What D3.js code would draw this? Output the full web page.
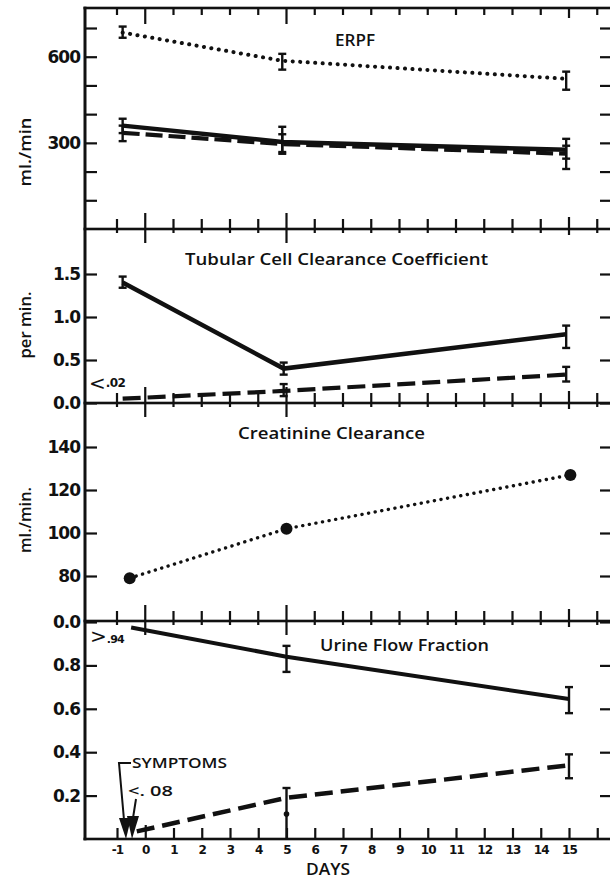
<!DOCTYPE html>
<html>
<head>
<meta charset="utf-8">
<script src="https://cdn.jsdelivr.net/npm/d3@7"></script>
<style>
body { margin: 0; background: #fff; }
</style>
</head>
<body>
<div id="chart"></div>
<script>
// ---- data ----
var dayTicks = d3.range(-1, 17);
var dayLabels = d3.range(-1, 16);
var majorDays = [0, 5];

// ERPF (ml/min)
var erpfDays = [-0.8, 4.85, 14.9];
var erpfDotted = [684, 586, 523];
var erpfDottedLo = [666, 555, 485];
var erpfDottedHi = [705, 610, 548];
var erpfSolid = [360, 303, 276];
var erpfSolidLo = [334, 262, 245];
var erpfSolidHi = [384, 356, 314];
var erpfDashed = [335, 296, 262];
var erpfDashedLo = [306, 268, 209];
var erpfDashedHi = [360, 330, 290];
var erpfTicks = [100, 200, 300, 400, 500, 600, 700];
var erpfLabeled = [600, 300];

// Tubular cell clearance coefficient (per min)
var tccDays = [-0.8, 4.9, 14.9];
var tccSolid = [1.40, 0.40, 0.80];
var tccSolidLo = [1.34, 0.33, 0.64];
var tccSolidHi = [1.47, 0.47, 0.90];
var tccDashed = [0.05, 0.14, 0.33];
var tccDashedLo = [null, 0.08, 0.25];
var tccDashedHi = [null, 0.22, 0.42];
var tccTicks = [0, 0.5, 1.0, 1.5];

// Creatinine clearance (ml/min)
var creatDays = [-0.55, 5, 15.05];
var creatValues = [79, 102, 127];
var creatTicks = [80, 100, 120, 140];

// Urine flow fraction
var urineSolidDays = [-0.5, 5, 15];
var urineSolid = [0.975, 0.84, 0.645];
var urineSolidLo = [null, 0.77, 0.58];
var urineSolidHi = [null, 0.89, 0.70];
var urineDashedDays = [-0.3, 5, 15];
var urineDashed = [0.035, 0.19, 0.34];
var urineDashedLo = [null, 0, 0.28];
var urineDashedHi = [null, 0.235, 0.39];
var urineExtraDot = 0.115;
var urineTicks = [0.2, 0.4, 0.6, 0.8, 1.0];
var urineTickLabels = ["0.2", "0.4", "0.6", "0.8", "0.0"];

// ---- layout ----
var width = 610, height = 880;
var frameLeft = 85, frameRight = 611, frameTop = 8, frameBottom = 839;
var dividers = [229, 403, 621];
var ink = "#111";
var numFont = "'DejaVu Sans', sans-serif";
var textFont = "'Open Sans', sans-serif";

var svg = d3.select("#chart").append("svg")
    .attr("width", width)
    .attr("height", height);

var xScale = d3.scaleLinear().domain([-1, 15]).range([117, 569]);
var yErpf = d3.scaleLinear().domain([0, 700]).range([229, 28]);
var yTcc = d3.scaleLinear().domain([0, 1.5]).range([403, 274]);
var yCreat = d3.scaleLinear().domain([60, 140]).range([619, 447]);
var yUrine = d3.scaleLinear().domain([0, 1]).range([839, 622]);

// frame
svg.append("rect").attr("x", frameLeft - 1.5).attr("y", frameTop - 1.3)
    .attr("width", 3).attr("height", frameBottom - frameTop + 2.6).attr("fill", ink);
[frameTop].concat(dividers).concat([frameBottom]).forEach(function(yy) {
    svg.append("rect").attr("x", frameLeft - 1.5).attr("y", yy - 1.3)
        .attr("width", frameRight - frameLeft + 1.5).attr("height", 2.6).attr("fill", ink);
});

// day ticks crossing the panel dividers and hanging from the top frame
function divUp(d) { return majorDays.indexOf(d) >= 0 ? 16 : (d == 15 ? 12 : 10); }
function divDown(d) { return majorDays.indexOf(d) >= 0 ? 14 : (d == 15 ? 6 : 4); }
function topDown(d) { return majorDays.indexOf(d) >= 0 ? 16 : (d == 15 ? 10 : 7); }
var tickRows = dividers.map(function(yy) { return { y: yy, up: divUp, down: divDown }; })
    .concat([{ y: frameTop, up: function() { return 0; }, down: topDown }]);
tickRows.forEach(function(row) {
    svg.append("g").selectAll("rect")
        .data(dayTicks).enter().append("rect")
        .attr("x", function(d) { return xScale(d) - 1.1; })
        .attr("y", function(d) { return row.y - row.up(d); })
        .attr("width", 2.2)
        .attr("height", function(d) { return row.up(d) + row.down(d); })
        .attr("fill", ink);
});

// bottom axis with labels
var xAxis = d3.axisBottom(xScale).tickValues(dayTicks)
    .tickSizeInner(-11).tickSizeOuter(0).tickPadding(6)
    .tickFormat(function(d) { return dayLabels.indexOf(d) >= 0 ? d : ""; });
var gx = svg.append("g").attr("transform", "translate(0," + frameBottom + ")").call(xAxis);
gx.select(".domain").remove();
gx.selectAll(".tick line").attr("stroke", ink).attr("stroke-width", 2.2)
    .attr("y2", function(d) { return d == 0 ? -14 : -11; });
gx.selectAll(".tick text").attr("font-size", 12).attr("font-weight", 700)
    .attr("font-family", numFont).attr("fill", ink).attr("letter-spacing", -0.8);

svg.append("text").attr("x", 328).attr("y", 875).attr("text-anchor", "middle")
    .attr("font-family", textFont).attr("fill", ink)
    .attr("font-size", 17).attr("font-weight", 600)
    .attr("textLength", 44).attr("lengthAdjust", "spacingAndGlyphs")
    .text("DAYS");

// y axes, left with labels, right ticks only
function yAxes(y, ticks, fmt) {
    var gl = svg.append("g").attr("transform", "translate(" + frameLeft + ",0)")
        .call(d3.axisLeft(y).tickValues(ticks).tickSizeInner(-12).tickSizeOuter(0)
            .tickPadding(5).tickFormat(fmt));
    gl.select(".domain").remove();
    gl.selectAll(".tick line").attr("stroke", ink).attr("stroke-width", 2.2);
    gl.selectAll(".tick text").attr("font-size", 17).attr("font-weight", 700)
        .attr("font-family", numFont).attr("fill", ink)
        .attr("letter-spacing", -1);
    var gr = svg.append("g").attr("transform", "translate(" + frameRight + ",0)")
        .call(d3.axisRight(y).tickValues(ticks)
            .tickSizeInner(-11).tickSizeOuter(0).tickFormat(""));
    gr.select(".domain").remove();
    gr.selectAll(".tick line").attr("stroke", ink).attr("stroke-width", 2.2);
}
yAxes(yErpf, erpfTicks, function(d) { return erpfLabeled.indexOf(d) >= 0 ? d : ""; });
yAxes(yTcc, tccTicks, d3.format(".1f"));
yAxes(yCreat, creatTicks, function(d) { return d; });
yAxes(yUrine, urineTicks, function(d) { return urineTickLabels[urineTicks.indexOf(d)]; });

// y titles
function yTitle(txt, cy, len) {
    svg.append("text").attr("transform", "translate(31," + cy + ") rotate(-90)")
        .attr("text-anchor", "middle").attr("font-size", 16).attr("font-weight", 600)
        .attr("font-family", textFont).attr("fill", ink)
        .attr("textLength", len).attr("lengthAdjust", "spacingAndGlyphs")
        .text(txt);
}
yTitle("ml./min", 152, 69);
yTitle("per min.", 325, 67);
yTitle("ml./min.", 520, 66);

// panel titles
function panelTitle(txt, x0, x1, baseline) {
    svg.append("text").attr("x", x0).attr("y", baseline)
        .attr("font-family", textFont).attr("fill", ink)
        .attr("font-size", 16).attr("font-weight", 600)
        .attr("textLength", x1 - x0).attr("lengthAdjust", "spacingAndGlyphs")
        .text(txt);
}
panelTitle("ERPF", 335, 375, 46);
panelTitle("Tubular Cell Clearance Coefficient", 185, 488, 265);
panelTitle("Creatinine Clearance", 238, 425, 439);
panelTitle("Urine Flow Fraction", 320, 489, 651);

// series helpers
function drawLine(y, days, vals, w, dash, cap) {
    var line = d3.line()
        .x(function(d) { return xScale(d[0]); })
        .y(function(d) { return y(d[1]); });
    svg.append("path")
        .datum(days.map(function(d, i) { return [d, vals[i]]; }))
        .attr("d", line)
        .attr("fill", "none")
        .attr("stroke", ink)
        .attr("stroke-width", w)
        .attr("stroke-dasharray", dash)
        .attr("stroke-linecap", cap || "butt");
}
function drawErr(y, days, lo, hi) {
    var g = svg.append("g");
    days.forEach(function(d, i) {
        if (lo[i] === null) return;
        var xx = xScale(d);
        g.append("line").attr("x1", xx).attr("x2", xx)
            .attr("y1", y(lo[i])).attr("y2", y(hi[i]))
            .attr("stroke", ink).attr("stroke-width", 2.4);
        [lo[i], hi[i]].forEach(function(v) {
            if (v <= 0) return;
            g.append("line").attr("x1", xx - 4).attr("x2", xx + 4)
                .attr("y1", y(v)).attr("y2", y(v))
                .attr("stroke", ink).attr("stroke-width", 2.4);
        });
    });
}

// ERPF
drawLine(yErpf, erpfDays, erpfDotted, 4, "0.1 7.4", "round");
drawErr(yErpf, erpfDays, erpfDottedLo, erpfDottedHi);
drawLine(yErpf, erpfDays, erpfSolid, 4.5, null);
drawErr(yErpf, erpfDays, erpfSolidLo, erpfSolidHi);
drawLine(yErpf, erpfDays, erpfDashed, 4.2, "17 6");
drawErr(yErpf, erpfDays, erpfDashedLo, erpfDashedHi);

// TCC
drawLine(yTcc, tccDays, tccSolid, 4.5, null);
drawErr(yTcc, tccDays, tccSolidLo, tccSolidHi);
drawLine(yTcc, tccDays, tccDashed, 4.2, "18 7");
drawErr(yTcc, tccDays, tccDashedLo, tccDashedHi);

// Creatinine
drawLine(yCreat, creatDays, creatValues, 3.4, "0.1 6.6", "round");
svg.append("g").selectAll("circle")
    .data(creatDays).enter().append("circle")
    .attr("cx", function(d) { return xScale(d); })
    .attr("cy", function(d, i) { return yCreat(creatValues[i]); })
    .attr("r", 6)
    .attr("fill", ink);

// Urine flow
drawLine(yUrine, urineSolidDays, urineSolid, 4, null);
drawErr(yUrine, urineSolidDays, urineSolidLo, urineSolidHi);
drawLine(yUrine, urineDashedDays, urineDashed, 4.5, "18 8");
drawErr(yUrine, urineDashedDays, urineDashedLo, urineDashedHi);
svg.append("circle").attr("cx", xScale(5)).attr("cy", yUrine(urineExtraDot)).attr("r", 2.8).attr("fill", ink);

// annotations
var lt = svg.append("text").attr("x", 89).attr("y", 390).attr("font-family", numFont).attr("fill", ink);
lt.append("tspan").attr("font-size", 20).text("<");
lt.append("tspan").attr("font-size", 12).attr("font-weight", 700).attr("dy", -3)
    .attr("letter-spacing", -0.6).text(".02");

var gt = svg.append("text").attr("x", 90).attr("y", 643).attr("font-family", numFont).attr("fill", ink);
gt.append("tspan").attr("font-size", 20).text(">");
gt.append("tspan").attr("font-size", 11).attr("font-weight", 700)
    .attr("letter-spacing", -0.8).text(".94");

svg.append("text").attr("x", 132).attr("y", 768)
    .attr("font-family", textFont).attr("fill", ink)
    .attr("font-size", 15).attr("font-weight", 600)
    .attr("textLength", 95).attr("lengthAdjust", "spacingAndGlyphs")
    .text("SYMPTOMS");
svg.append("text").attr("x", 128).attr("y", 796)
    .attr("font-family", textFont).attr("fill", ink)
    .attr("font-size", 15).attr("font-weight", 600)
    .attr("textLength", 45).attr("lengthAdjust", "spacingAndGlyphs")
    .text("<. 08");

svg.append("path").attr("d", "M131,763 L119,763 L124,820")
    .attr("fill", "none").attr("stroke", ink).attr("stroke-width", 2);
svg.append("path").attr("d", "M136,799 L133,818")
    .attr("fill", "none").attr("stroke", ink).attr("stroke-width", 2);
svg.append("path").attr("d", "M119,818 L131,818 L126,839 Z").attr("fill", ink);
svg.append("path").attr("d", "M127,816 L139,816 L132,839 Z").attr("fill", ink);
</script>
</body>
</html>
